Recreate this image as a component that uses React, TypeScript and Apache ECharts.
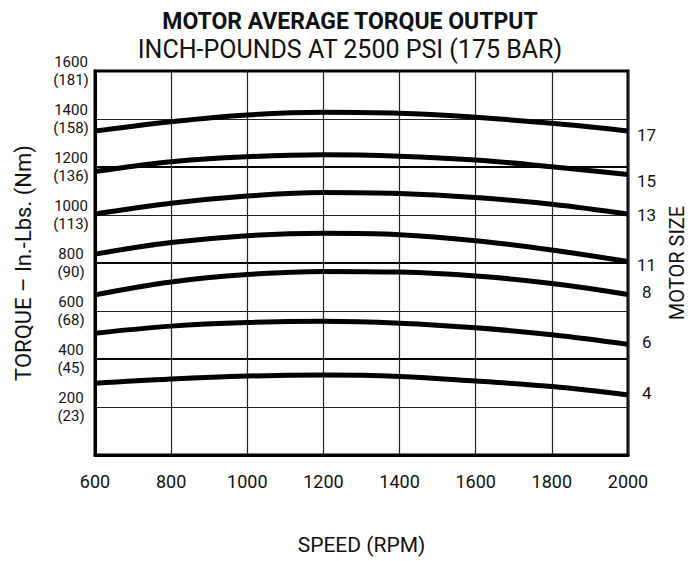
import React, { useEffect, useRef } from "react";
import * as echarts from "echarts";

const speeds = [600, 800, 1000, 1200, 1400, 1600, 1800, 2000];
const motorSizes = ["17", "15", "13", "11", "8", "6", "4"];
const torque17 = [1350, 1389, 1417, 1428, 1424, 1407, 1382, 1350];
const torque15 = [1181, 1222, 1243, 1251, 1245, 1229, 1201, 1169];
const torque13 = [1004, 1049, 1079, 1094, 1090, 1073, 1045, 1004];
const torque11 = [837, 885, 914, 924, 918, 893, 854, 806];
const torque8 = [667, 721, 752, 765, 762, 746, 715, 669];
const torque6 = [507, 537, 552, 557, 549, 530, 501, 461];
const torque4 = [299, 317, 329, 333, 327, 308, 285, 250];
const torqueSeries = [torque17, torque15, torque13, torque11, torque8, torque6, torque4];
const yTickInLbs = [200, 400, 600, 800, 1000, 1200, 1400, 1600];
const yTickNm = [23, 45, 68, 90, 113, 136, 158, 181];

const FONT = "Roboto, 'Liberation Sans', sans-serif";
const labelOffsets: [number, number][] = [[0, 4], [0, 7], [0, 1], [0, 3], [5, -2], [5, -2], [5, -2]];

export default function App() {
  const ref = useRef<HTMLDivElement>(null);
  useEffect(() => {
    if (!ref.current) return;
    const chart = echarts.init(ref.current, undefined, { renderer: "svg" });
    const series: any[] = torqueSeries.map((vals, i) => ({
      name: motorSizes[i],
      type: "line",
      smooth: 0.4,
      showSymbol: false,
      symbol: "none",
      data: speeds.map((s, j) => [s, vals[j]]),
      lineStyle: { color: "#000", width: 5 },
      itemStyle: { color: "#000" },
      z: 5,
      endLabel: {
        show: true,
        formatter: motorSizes[i],
        fontFamily: FONT,
        fontSize: 17,
        color: "#111",
        distance: 9,
        offset: labelOffsets[i],
      },
    }));
    chart.setOption({
      animation: false,
      backgroundColor: "#fff",
      textStyle: { fontFamily: FONT },
      title: [
        {
          text: "MOTOR AVERAGE TORQUE OUTPUT",
          left: "center",
          top: 5,
          textStyle: { fontFamily: FONT, fontSize: 23, fontWeight: "bold", color: "#111" },
        },
        {
          text: "INCH-POUNDS AT 2500 PSI (175 BAR)",
          left: "center",
          top: 32,
          textStyle: { fontFamily: FONT, fontSize: 25, fontWeight: "normal", color: "#111" },
        },
      ],
      grid: {
        left: 95,
        right: 72,
        top: 71,
        bottom: 106,
        show: true,
        borderColor: "#000",
        borderWidth: 3,
        backgroundColor: "transparent",
      },
      xAxis: {
        type: "value",
        min: 600,
        max: 2000,
        interval: 200,
        name: "SPEED (RPM)",
        nameLocation: "middle",
        nameGap: 90,
        nameTextStyle: { fontFamily: FONT, fontSize: 21, color: "#111", verticalAlign: "middle" },
        axisLine: { show: true, lineStyle: { color: "#000", width: 3 } },
        axisTick: { show: false },
        axisLabel: {
          fontFamily: FONT,
          fontSize: 18,
          color: "#111",
          margin: 17,
          formatter: (v: number) => String(v),
        },
        splitLine: { show: true, lineStyle: { color: "#222", width: 1.2 } },
      },
      yAxis: [
        {
          type: "value",
          min: 0,
          max: 1600,
          interval: 200,
          name: "TORQUE – In.-Lbs. (Nm)",
          nameLocation: "middle",
          nameGap: 72,
          nameRotate: 90,
          nameTextStyle: { fontFamily: FONT, fontSize: 22, color: "#111", verticalAlign: "middle" },
          axisLine: { show: true, lineStyle: { color: "#000", width: 3 } },
          axisTick: { show: false },
          axisLabel: {
            fontFamily: FONT,
            fontSize: 15,
            lineHeight: 18,
            color: "#111",
            align: "center",
            margin: 24,
            formatter: (v: number) => {
              const i = yTickInLbs.indexOf(v);
              return i < 0 ? "" : `${yTickInLbs[i]}\n(${yTickNm[i]})`;
            },
          },
          splitLine: { show: true, lineStyle: { color: "#222", width: 1.2 } },
        },
        {
          type: "value",
          position: "right",
          min: 0,
          max: 1600,
          interval: 400,
          name: "MOTOR SIZE",
          nameLocation: "middle",
          nameGap: 49,
          nameRotate: 90,
          nameTextStyle: { fontFamily: FONT, fontSize: 20, color: "#111", verticalAlign: "middle" },
          axisLine: { show: false },
          axisTick: { show: false },
          axisLabel: { show: false },
          splitLine: { show: true, lineStyle: { color: "#000", width: 2.2 } },
        },
      ],
      series,
    });
    return () => chart.dispose();
  }, []);
  return <div ref={ref} style={{ width: 700, height: 561, position: "absolute", left: 0, top: 0 }} />;
}
